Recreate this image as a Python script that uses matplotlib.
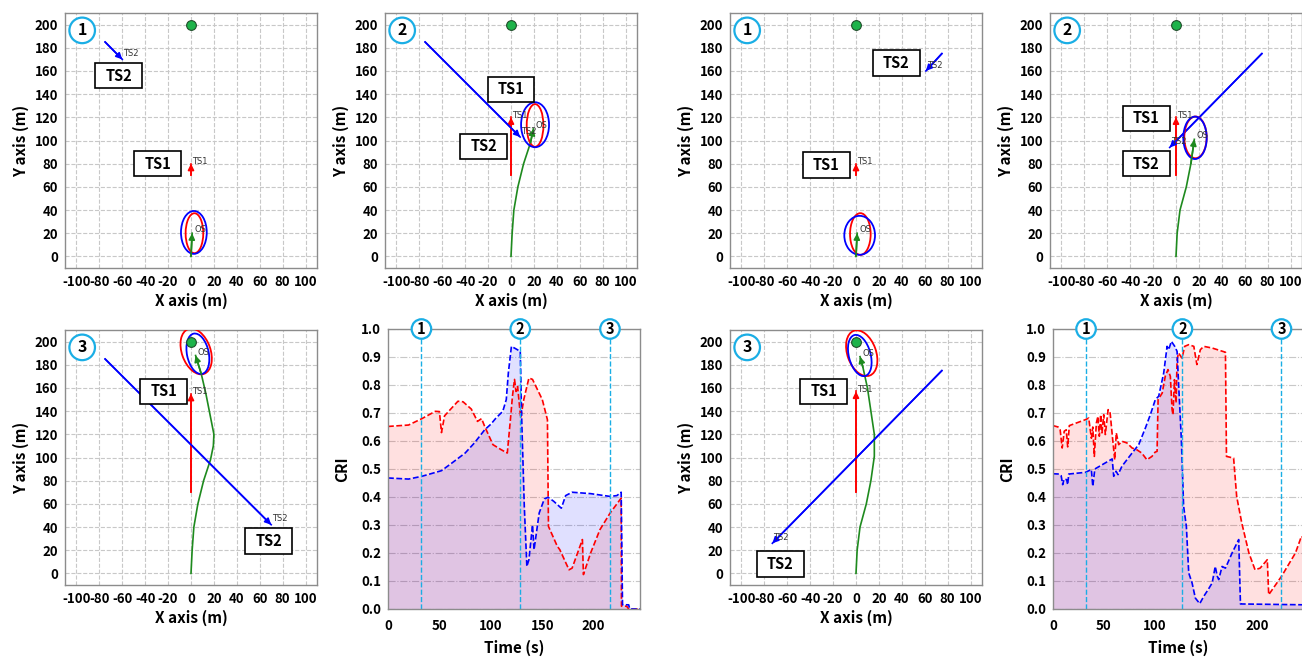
import numpy as np
import matplotlib
matplotlib.use("Agg")
import matplotlib.pyplot as plt
from matplotlib.patches import Ellipse, Rectangle

plt.rcParams['font.family'] = ['Noto Sans CJK KR', 'DejaVu Sans']
plt.rcParams['axes.unicode_minus'] = False

W, H = 1302, 657

# goal position
goal_x, goal_y = 0, 200

# own ship track, scenario A (left) and B (right)
os_a_x = [0, 1, 2.5, 6, 11, 17, 19.5, 20, 17, 13, 9, 4]
os_a_y = [0, 20, 40, 60, 80, 98, 110, 120, 135, 155, 172, 188]
os_b_x = [0, 1, 3.5, 9, 13, 16, 16, 13, 10, 6, 3.5]
os_b_y = [0, 20, 40, 60, 80, 101, 120, 140, 160, 178, 187]
# how many track points are shown at snapshot 1, 2, 3
os_a_n = [2, 7, 12]
os_b_n = [2, 6, 11]

# TS1 sails north from (0, 70)
ts1_x0, ts1_y0 = 0, 70
ts1_a_y = [80, 120, 155]
ts1_b_y = [80, 120, 157]

# TS2 straight track
ts2_a_x0, ts2_a_y0 = -75, 185
ts2_a_x = [-60, 8, 70]
ts2_a_y = [170, 103, 42]
ts2_b_x0, ts2_b_y0 = 75, 175
ts2_b_x = [61, -5.5, -73]
ts2_b_y = [160, 94, 26]

# collision domains: centre x, centre y, width, height, angle
dom_ts1_a = [(3, 20, 15.4, 34.5, 0), (21, 113, 14.6, 36.8, 0), (4.5, 191.5, 25, 41, 20)]
dom_ts2_a = [(2.5, 20.7, 22.5, 37, 0), (21, 113.6, 24.4, 38.8, 0), (6, 189.5, 19, 35.5, 12)]
dom_ts1_b = [(3.8, 19.3, 18, 36, 0), (17, 102.7, 19.5, 36, 0), (5, 190, 25, 41, 20)]
dom_ts2_b = [(3.2, 18.2, 26.8, 33.6, 0), (16.6, 102.3, 20.4, 36.6, 0), (3.3, 188, 19, 36.5, 15)]

# name boxes (TS1 box, TS2 box)
box_a = [((-29, 80), (-63, 156)), ((0, 144), (-24, 95)), ((-24, 157), (68, 28))]
box_b = [((-26, 79), (35, 167)), ((-26, 119), (-26, 80)), ((-28, 157), (-66, 8))]

# CRI time histories
cri_a_t1 = [0, 20, 33, 46, 50, 52, 55, 68, 73, 81, 87, 91, 94, 102, 110, 116, 119, 121, 123,
            124.5, 126, 129, 132, 137, 140.5, 150, 155, 156, 164.6, 167, 176, 179, 189, 190,
            197, 206, 216, 226.7, 227, 232, 234, 245]
cri_a_ts1 = [0.652, 0.657, 0.68, 0.706, 0.705, 0.63, 0.69, 0.742, 0.74, 0.714, 0.67, 0.68,
             0.652, 0.587, 0.569, 0.557, 0.676, 0.76, 0.82, 0.777, 0.795, 0.682, 0.748, 0.825,
             0.82, 0.748, 0.676, 0.295, 0.224, 0.212, 0.14, 0.146, 0.248, 0.123, 0.2, 0.283,
             0.343, 0.396, 0.01, 0.01, 0.0, 0.0]
cri_a_t2 = [0, 20, 33, 52, 62, 75, 84, 94, 100, 105, 111.6, 115, 117, 120, 124.4, 128.6, 130,
            132.5, 135, 137, 140.5, 142, 147, 152, 155.6, 161, 168.5, 172.7, 179, 197, 216,
            222.5, 226.7, 228, 234, 235, 245]
cri_a_ts2 = [0.468, 0.464, 0.474, 0.494, 0.521, 0.557, 0.593, 0.64, 0.66, 0.682, 0.706, 0.748,
             0.843, 0.938, 0.929, 0.92, 0.676, 0.367, 0.152, 0.176, 0.30, 0.212, 0.343, 0.393,
             0.399, 0.385, 0.36, 0.405, 0.417, 0.412, 0.402, 0.405, 0.417, 0.015, 0.015, 0.0, 0.0]

cri_b_t1 = [0, 5, 7, 9, 11, 13, 14.4, 16, 31.7, 35, 37.6, 39, 40.5, 42.5, 44, 45.4, 46.7, 48,
            49.7, 51.3, 54, 56, 58.5, 60.5, 62, 64.4, 67.6, 72.5, 77.5, 82, 87, 92, 97, 100,
            102, 103, 107, 110, 112.7, 115, 116.7, 117.6, 119, 120.6, 121.6, 123, 126.5, 129,
            133, 138, 141, 144.4, 147.7, 156, 169, 170, 177, 180, 185, 192, 198, 203, 210,
            211.4, 224, 237.6, 243.5, 246]
cri_b_ts1 = [0.655, 0.65, 0.64, 0.575, 0.635, 0.64, 0.579, 0.655, 0.676, 0.682, 0.61, 0.65,
             0.545, 0.664, 0.688, 0.617, 0.694, 0.629, 0.694, 0.623, 0.712, 0.7, 0.605, 0.533,
             0.629, 0.587, 0.599, 0.593, 0.575, 0.569, 0.557, 0.533, 0.545, 0.56, 0.563, 0.748,
             0.771, 0.831, 0.855, 0.831, 0.712, 0.694, 0.819, 0.736, 0.89, 0.914, 0.896, 0.938,
             0.944, 0.938, 0.873, 0.926, 0.938, 0.932, 0.917, 0.545, 0.539, 0.402, 0.307, 0.2,
             0.14, 0.146, 0.176, 0.051, 0.117, 0.2, 0.26, 0.25]
cri_b_t2 = [0, 6, 8, 9.5, 10.8, 13.4, 14.4, 15.4, 31.7, 37.6, 39, 41, 58, 59.5, 61.8, 63.7,
            67.6, 77.5, 84, 90.5, 95.4, 100.3, 103.6, 108.5, 111.8, 113.4, 116, 119.3, 121.6,
            123.2, 125.8, 128, 130.7, 133, 136.3, 139.5, 143.8, 147.7, 152, 156, 159, 161,
            162.4, 165.7, 169, 175.5, 182, 183.7, 246]
cri_b_ts2 = [0.483, 0.482, 0.476, 0.444, 0.464, 0.462, 0.444, 0.482, 0.488, 0.498, 0.438, 0.5,
             0.536, 0.474, 0.492, 0.48, 0.51, 0.557, 0.587, 0.646, 0.694, 0.748, 0.76, 0.843,
             0.938, 0.926, 0.956, 0.938, 0.92, 0.795, 0.605, 0.367, 0.295, 0.129, 0.093, 0.039,
             0.019, 0.045, 0.069, 0.093, 0.152, 0.117, 0.105, 0.152, 0.146, 0.2, 0.248, 0.018,
             0.015]

# snapshot times
snap_a = [32.5, 128.6, 215.8]
snap_b = [32.4, 126.8, 223.9]

BLUE_MARK = '#1aaee5'
GRID = '#c8c8c8'
SPINE = '#8c8c8c'
BOX_W, BOX_H = 41, 22


def add_px_axes(fig, l, t, r, b):
    return fig.add_axes([l / W, 1 - b / H, (r - l) / W, (b - t) / H])


def style_common(ax):
    ax.tick_params(length=0, pad=5, labelsize=9.5)
    for lab in ax.get_xticklabels() + ax.get_yticklabels():
        lab.set_fontweight('bold')
    for s in ax.spines.values():
        s.set_color(SPINE)
        s.set_linewidth(1)


def arrow_track(ax, xs, ys, color, label, off):
    ax.plot(xs, ys, color=color, lw=1.2, zorder=3)
    ax.annotate('', xy=(xs[-1], ys[-1]), xytext=(xs[-2], ys[-2]),
                arrowprops=dict(arrowstyle='-|>', color=color, lw=1.2,
                                mutation_scale=9, shrinkA=0, shrinkB=0), zorder=4)
    ax.text(xs[-1] + off[0], ys[-1] + off[1], label, fontsize=6, color='#333333',
            family='DejaVu Sans', ha='left', va='center', zorder=5)


def draw_xy(ax, k, os_x, os_y, n, ts1_y, ts2_x0, ts2_y0, ts2_x, ts2_y, d1, d2, boxes):
    ax.set_xlim(-110, 110)
    ax.set_ylim(-10, 210)
    ax.set_xticks(range(-100, 101, 20))
    ax.set_yticks(range(0, 201, 20))
    ax.grid(True, ls='--', color=GRID, lw=0.8)
    ax.set_axisbelow(True)
    style_common(ax)
    ax.set_xlabel('X axis (m)', fontsize=11, fontweight='bold', labelpad=3)
    ax.set_ylabel('Y axis (m)', fontsize=11, fontweight='bold', labelpad=4)

    # target ships
    arrow_track(ax, [ts1_x0, ts1_x0], [ts1_y0, ts1_y[k]], 'red', 'TS1', (1, 2))
    arrow_track(ax, [ts2_x0, ts2_x[k]], [ts2_y0, ts2_y[k]], 'blue', 'TS2', (1, 5))

    # collision domains
    for d, c in ((d1[k], 'red'), (d2[k], 'blue')):
        ax.add_patch(Ellipse((d[0], d[1]), d[2], d[3], angle=d[4], fill=False,
                             ec=c, lw=1.3, zorder=4))

    # own ship
    arrow_track(ax, list(os_x[:n[k]]), list(os_y[:n[k]]), '#1e8a1e', 'OS', (2, 3))
    ax.plot(goal_x, goal_y, 'o', ms=7, mfc='#1db34a', mec='#1f4d2a', mew=0.8, zorder=6)

    for (bx, by), name in zip(boxes[k], ('TS1', 'TS2')):
        ax.add_patch(Rectangle((bx - BOX_W / 2, by - BOX_H / 2), BOX_W, BOX_H,
                               fc='white', ec='black', lw=1.2, zorder=7))
        ax.text(bx, by, name, fontsize=10.5, fontweight='bold', ha='center',
                va='center', zorder=8)

    ax.text(-95, 195, str(k + 1), fontsize=11.5, fontweight='bold', ha='center',
            va='center', zorder=9,
            bbox=dict(boxstyle='circle,pad=0.3', fc='white', ec=BLUE_MARK, lw=1.6))


def draw_cri(ax, t1, c1, t2, c2, snaps):
    ax.set_xlim(0, 245)
    ax.set_ylim(0, 1)
    ax.set_xticks([0, 50, 100, 150, 200])
    ax.set_yticks(np.round(np.arange(0, 1.01, 0.1), 1))
    ax.yaxis.set_major_formatter('{x:.1f}')
    ax.grid(axis='y', ls='-.', color=GRID, lw=0.8)
    ax.set_axisbelow(True)
    style_common(ax)
    ax.tick_params(axis='x', pad=7)
    ax.set_xlabel('Time (s)', fontsize=11, fontweight='bold', labelpad=5)
    ax.set_ylabel('CRI', fontsize=11, fontweight='bold', labelpad=8)

    ax.fill_between(t1, c1, color='red', alpha=0.12, lw=0)
    ax.fill_between(t2, c2, color='blue', alpha=0.12, lw=0)
    ax.plot(t1, c1, color='red', lw=1.2, dashes=(3.5, 1.5))
    ax.plot(t2, c2, color='blue', lw=1.2, dashes=(3.5, 1.5))

    for i, tm in enumerate(snaps):
        ax.axvline(tm, color=BLUE_MARK, ls='--', lw=1)
        ax.text(tm, 1.0, str(i + 1), fontsize=10.5, fontweight='bold', ha='center',
                va='center', clip_on=False, zorder=9,
                bbox=dict(boxstyle='circle,pad=0.12', fc='white', ec=BLUE_MARK, lw=1.6))


fig = plt.figure(figsize=(W / 100, H / 100), dpi=100)

ax1 = add_px_axes(fig, 65, 13, 317, 268)
ax2 = add_px_axes(fig, 385, 13, 637, 268)
ax3 = add_px_axes(fig, 730, 13, 982, 268)
ax4 = add_px_axes(fig, 1050, 13, 1302, 268)
ax5 = add_px_axes(fig, 65, 330, 317, 585)
ax6 = add_px_axes(fig, 388, 329, 640, 609)
ax7 = add_px_axes(fig, 730, 330, 982, 585)
ax8 = add_px_axes(fig, 1053, 329, 1303, 609)

for ax, k in ((ax1, 0), (ax2, 1), (ax5, 2)):
    draw_xy(ax, k, os_a_x, os_a_y, os_a_n, ts1_a_y, ts2_a_x0, ts2_a_y0, ts2_a_x, ts2_a_y,
            dom_ts1_a, dom_ts2_a, box_a)
for ax, k in ((ax3, 0), (ax4, 1), (ax7, 2)):
    draw_xy(ax, k, os_b_x, os_b_y, os_b_n, ts1_b_y, ts2_b_x0, ts2_b_y0, ts2_b_x, ts2_b_y,
            dom_ts1_b, dom_ts2_b, box_b)

draw_cri(ax6, cri_a_t1, cri_a_ts1, cri_a_t2, cri_a_ts2, snap_a)
draw_cri(ax8, cri_b_t1, cri_b_ts1, cri_b_t2, cri_b_ts2, snap_b)

fig.savefig('out.png', dpi=100)
